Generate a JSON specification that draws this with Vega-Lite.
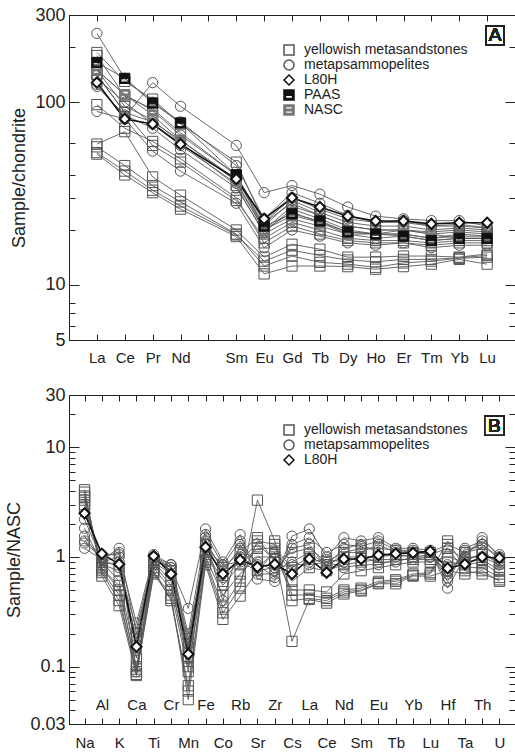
{
  "$schema": "https://vega.github.io/schema/vega-lite/v6.json",
  "background": "white",
  "padding": {"left": 5, "top": 5, "right": 0, "bottom": 2},
  "spacing": 19,
  "config": {
    "font": "Liberation Sans",
    "view": {"stroke": "#222", "strokeWidth": 1},
    "axis": {"domainColor": "#222", "tickColor": "#222", "labelColor": "#222", "titleColor": "#222", "labelFont": "Liberation Sans", "titleFont": "Liberation Sans", "titleFontWeight": "normal", "grid": false},
    "legend": {"labelFont": "Liberation Sans", "labelColor": "#222", "labelLimit": 400}
  },
  "resolve": {"scale": {"shape": "independent", "fill": "independent", "stroke": "independent"}, "legend": {"shape": "independent", "fill": "independent", "stroke": "independent"}},
  "datasets": {
    "ree": [
      {"s":"Y1","g":"Y","e":"La","v":59},{"s":"Y1","g":"Y","e":"Ce","v":69},{"s":"Y1","g":"Y","e":"Pr","v":39},{"s":"Y1","g":"Y","e":"Nd","v":31},{"s":"Y1","g":"Y","e":"Sm","v":20},{"s":"Y1","g":"Y","e":"Eu","v":14.2},{"s":"Y1","g":"Y","e":"Gd","v":16.7},{"s":"Y1","g":"Y","e":"Tb","v":15.7},{"s":"Y1","g":"Y","e":"Dy","v":14.2},{"s":"Y1","g":"Y","e":"Ho","v":14.2},{"s":"Y1","g":"Y","e":"Er","v":14.4},{"s":"Y1","g":"Y","e":"Tm","v":14.4},{"s":"Y1","g":"Y","e":"Yb","v":14.2},{"s":"Y1","g":"Y","e":"Lu","v":14.8},
      {"s":"Y2","g":"Y","e":"La","v":57},{"s":"Y2","g":"Y","e":"Ce","v":45},{"s":"Y2","g":"Y","e":"Pr","v":35},{"s":"Y2","g":"Y","e":"Nd","v":28.5},{"s":"Y2","g":"Y","e":"Sm","v":19},{"s":"Y2","g":"Y","e":"Eu","v":12.7},{"s":"Y2","g":"Y","e":"Gd","v":14.4},{"s":"Y2","g":"Y","e":"Tb","v":13.3},{"s":"Y2","g":"Y","e":"Dy","v":13},{"s":"Y2","g":"Y","e":"Ho","v":12.5},{"s":"Y2","g":"Y","e":"Er","v":13.2},{"s":"Y2","g":"Y","e":"Tm","v":13.5},{"s":"Y2","g":"Y","e":"Yb","v":14},{"s":"Y2","g":"Y","e":"Lu","v":14.2},
      {"s":"Y3","g":"Y","e":"La","v":52},{"s":"Y3","g":"Y","e":"Ce","v":40},{"s":"Y3","g":"Y","e":"Pr","v":32},{"s":"Y3","g":"Y","e":"Nd","v":26},{"s":"Y3","g":"Y","e":"Sm","v":18.4},{"s":"Y3","g":"Y","e":"Eu","v":11.5},{"s":"Y3","g":"Y","e":"Gd","v":12.7},{"s":"Y3","g":"Y","e":"Tb","v":12.7},{"s":"Y3","g":"Y","e":"Dy","v":12.6},{"s":"Y3","g":"Y","e":"Ho","v":12.2},{"s":"Y3","g":"Y","e":"Er","v":12.6},{"s":"Y3","g":"Y","e":"Tm","v":13},{"s":"Y3","g":"Y","e":"Yb","v":13.8},{"s":"Y3","g":"Y","e":"Lu","v":13},
      {"s":"Y4","g":"Y","e":"La","v":53},{"s":"Y4","g":"Y","e":"Ce","v":42},{"s":"Y4","g":"Y","e":"Pr","v":33},{"s":"Y4","g":"Y","e":"Nd","v":27},{"s":"Y4","g":"Y","e":"Sm","v":18.8},{"s":"Y4","g":"Y","e":"Eu","v":13.5},{"s":"Y4","g":"Y","e":"Gd","v":15.5},{"s":"Y4","g":"Y","e":"Tb","v":14.5},{"s":"Y4","g":"Y","e":"Dy","v":13.7},{"s":"Y4","g":"Y","e":"Ho","v":13.4},{"s":"Y4","g":"Y","e":"Er","v":13.8},{"s":"Y4","g":"Y","e":"Tm","v":13.8},{"s":"Y4","g":"Y","e":"Yb","v":14.1},{"s":"Y4","g":"Y","e":"Lu","v":14.5},
      {"s":"Y5","g":"Y","e":"La","v":187},{"s":"Y5","g":"Y","e":"Ce","v":130},{"s":"Y5","g":"Y","e":"Pr","v":104},{"s":"Y5","g":"Y","e":"Nd","v":76},{"s":"Y5","g":"Y","e":"Sm","v":47},{"s":"Y5","g":"Y","e":"Eu","v":22},{"s":"Y5","g":"Y","e":"Gd","v":28},{"s":"Y5","g":"Y","e":"Tb","v":24},{"s":"Y5","g":"Y","e":"Dy","v":21},{"s":"Y5","g":"Y","e":"Ho","v":20},{"s":"Y5","g":"Y","e":"Er","v":20},{"s":"Y5","g":"Y","e":"Tm","v":19},{"s":"Y5","g":"Y","e":"Yb","v":19.5},{"s":"Y5","g":"Y","e":"Lu","v":19},
      {"s":"Y6","g":"Y","e":"La","v":180},{"s":"Y6","g":"Y","e":"Ce","v":108},{"s":"Y6","g":"Y","e":"Pr","v":92},{"s":"Y6","g":"Y","e":"Nd","v":68},{"s":"Y6","g":"Y","e":"Sm","v":40},{"s":"Y6","g":"Y","e":"Eu","v":20},{"s":"Y6","g":"Y","e":"Gd","v":25},{"s":"Y6","g":"Y","e":"Tb","v":22},{"s":"Y6","g":"Y","e":"Dy","v":19.5},{"s":"Y6","g":"Y","e":"Ho","v":19},{"s":"Y6","g":"Y","e":"Er","v":19},{"s":"Y6","g":"Y","e":"Tm","v":18},{"s":"Y6","g":"Y","e":"Yb","v":18.5},{"s":"Y6","g":"Y","e":"Lu","v":18.5},
      {"s":"Y7","g":"Y","e":"La","v":150},{"s":"Y7","g":"Y","e":"Ce","v":95},{"s":"Y7","g":"Y","e":"Pr","v":80},{"s":"Y7","g":"Y","e":"Nd","v":60},{"s":"Y7","g":"Y","e":"Sm","v":35},{"s":"Y7","g":"Y","e":"Eu","v":19},{"s":"Y7","g":"Y","e":"Gd","v":23},{"s":"Y7","g":"Y","e":"Tb","v":21},{"s":"Y7","g":"Y","e":"Dy","v":19},{"s":"Y7","g":"Y","e":"Ho","v":18},{"s":"Y7","g":"Y","e":"Er","v":18.5},{"s":"Y7","g":"Y","e":"Tm","v":17.5},{"s":"Y7","g":"Y","e":"Yb","v":18},{"s":"Y7","g":"Y","e":"Lu","v":18},
      {"s":"Y8","g":"Y","e":"La","v":97},{"s":"Y8","g":"Y","e":"Ce","v":72},{"s":"Y8","g":"Y","e":"Pr","v":61},{"s":"Y8","g":"Y","e":"Nd","v":49},{"s":"Y8","g":"Y","e":"Sm","v":30},{"s":"Y8","g":"Y","e":"Eu","v":17},{"s":"Y8","g":"Y","e":"Gd","v":21},{"s":"Y8","g":"Y","e":"Tb","v":19},{"s":"Y8","g":"Y","e":"Dy","v":17.5},{"s":"Y8","g":"Y","e":"Ho","v":17},{"s":"Y8","g":"Y","e":"Er","v":17},{"s":"Y8","g":"Y","e":"Tm","v":16.5},{"s":"Y8","g":"Y","e":"Yb","v":17},{"s":"Y8","g":"Y","e":"Lu","v":17},
      {"s":"Y9","g":"Y","e":"La","v":142},{"s":"Y9","g":"Y","e":"Ce","v":88},{"s":"Y9","g":"Y","e":"Pr","v":58},{"s":"Y9","g":"Y","e":"Nd","v":47},{"s":"Y9","g":"Y","e":"Sm","v":29},{"s":"Y9","g":"Y","e":"Eu","v":18},{"s":"Y9","g":"Y","e":"Gd","v":22},{"s":"Y9","g":"Y","e":"Tb","v":20},{"s":"Y9","g":"Y","e":"Dy","v":18},{"s":"Y9","g":"Y","e":"Ho","v":17.5},{"s":"Y9","g":"Y","e":"Er","v":17.5},{"s":"Y9","g":"Y","e":"Tm","v":17},{"s":"Y9","g":"Y","e":"Yb","v":17.5},{"s":"Y9","g":"Y","e":"Lu","v":17.5},
      {"s":"M1","g":"M","e":"La","v":238},{"s":"M1","g":"M","e":"Ce","v":135},{"s":"M1","g":"M","e":"Pr","v":100},{"s":"M1","g":"M","e":"Nd","v":78},{"s":"M1","g":"M","e":"Sm","v":45},{"s":"M1","g":"M","e":"Eu","v":23},{"s":"M1","g":"M","e":"Gd","v":32},{"s":"M1","g":"M","e":"Tb","v":28},{"s":"M1","g":"M","e":"Dy","v":24},{"s":"M1","g":"M","e":"Ho","v":22},{"s":"M1","g":"M","e":"Er","v":22},{"s":"M1","g":"M","e":"Tm","v":21},{"s":"M1","g":"M","e":"Yb","v":21},{"s":"M1","g":"M","e":"Lu","v":20.5},
      {"s":"M2","g":"M","e":"La","v":125},{"s":"M2","g":"M","e":"Ce","v":83},{"s":"M2","g":"M","e":"Pr","v":128},{"s":"M2","g":"M","e":"Nd","v":95},{"s":"M2","g":"M","e":"Sm","v":58},{"s":"M2","g":"M","e":"Eu","v":32},{"s":"M2","g":"M","e":"Gd","v":35},{"s":"M2","g":"M","e":"Tb","v":31.4},{"s":"M2","g":"M","e":"Dy","v":26.7},{"s":"M2","g":"M","e":"Ho","v":23.8},{"s":"M2","g":"M","e":"Er","v":23},{"s":"M2","g":"M","e":"Tm","v":22.5},{"s":"M2","g":"M","e":"Yb","v":22.5},{"s":"M2","g":"M","e":"Lu","v":21},
      {"s":"M3","g":"M","e":"La","v":89},{"s":"M3","g":"M","e":"Ce","v":81},{"s":"M3","g":"M","e":"Pr","v":54},{"s":"M3","g":"M","e":"Nd","v":42},{"s":"M3","g":"M","e":"Sm","v":28},{"s":"M3","g":"M","e":"Eu","v":16},{"s":"M3","g":"M","e":"Gd","v":20},{"s":"M3","g":"M","e":"Tb","v":18.5},{"s":"M3","g":"M","e":"Dy","v":17},{"s":"M3","g":"M","e":"Ho","v":16.5},{"s":"M3","g":"M","e":"Er","v":17},{"s":"M3","g":"M","e":"Tm","v":16},{"s":"M3","g":"M","e":"Yb","v":16.5},{"s":"M3","g":"M","e":"Lu","v":16.5},
      {"s":"M4","g":"M","e":"La","v":135},{"s":"M4","g":"M","e":"Ce","v":100},{"s":"M4","g":"M","e":"Pr","v":76},{"s":"M4","g":"M","e":"Nd","v":58},{"s":"M4","g":"M","e":"Sm","v":36},{"s":"M4","g":"M","e":"Eu","v":20},{"s":"M4","g":"M","e":"Gd","v":27},{"s":"M4","g":"M","e":"Tb","v":24},{"s":"M4","g":"M","e":"Dy","v":21},{"s":"M4","g":"M","e":"Ho","v":20},{"s":"M4","g":"M","e":"Er","v":20},{"s":"M4","g":"M","e":"Tm","v":19.5},{"s":"M4","g":"M","e":"Yb","v":20},{"s":"M4","g":"M","e":"Lu","v":19.5},
      {"s":"M5","g":"M","e":"La","v":122},{"s":"M5","g":"M","e":"Ce","v":85},{"s":"M5","g":"M","e":"Pr","v":72},{"s":"M5","g":"M","e":"Nd","v":55},{"s":"M5","g":"M","e":"Sm","v":34},{"s":"M5","g":"M","e":"Eu","v":19.5},{"s":"M5","g":"M","e":"Gd","v":26},{"s":"M5","g":"M","e":"Tb","v":23},{"s":"M5","g":"M","e":"Dy","v":20},{"s":"M5","g":"M","e":"Ho","v":19},{"s":"M5","g":"M","e":"Er","v":19},{"s":"M5","g":"M","e":"Tm","v":18},{"s":"M5","g":"M","e":"Yb","v":19},{"s":"M5","g":"M","e":"Lu","v":18.5},
      {"s":"M6","g":"M","e":"La","v":140},{"s":"M6","g":"M","e":"Ce","v":88},{"s":"M6","g":"M","e":"Pr","v":78},{"s":"M6","g":"M","e":"Nd","v":62},{"s":"M6","g":"M","e":"Sm","v":38},{"s":"M6","g":"M","e":"Eu","v":21},{"s":"M6","g":"M","e":"Gd","v":29},{"s":"M6","g":"M","e":"Tb","v":25},{"s":"M6","g":"M","e":"Dy","v":22},{"s":"M6","g":"M","e":"Ho","v":21},{"s":"M6","g":"M","e":"Er","v":21},{"s":"M6","g":"M","e":"Tm","v":20},{"s":"M6","g":"M","e":"Yb","v":20.5},{"s":"M6","g":"M","e":"Lu","v":20},
      {"s":"M7","g":"M","e":"La","v":150},{"s":"M7","g":"M","e":"Ce","v":110},{"s":"M7","g":"M","e":"Pr","v":90},{"s":"M7","g":"M","e":"Nd","v":66},{"s":"M7","g":"M","e":"Sm","v":40},{"s":"M7","g":"M","e":"Eu","v":22},{"s":"M7","g":"M","e":"Gd","v":30},{"s":"M7","g":"M","e":"Tb","v":26},{"s":"M7","g":"M","e":"Dy","v":23},{"s":"M7","g":"M","e":"Ho","v":22},{"s":"M7","g":"M","e":"Er","v":22.5},{"s":"M7","g":"M","e":"Tm","v":21},{"s":"M7","g":"M","e":"Yb","v":21.5},{"s":"M7","g":"M","e":"Lu","v":20.5},
      {"s":"NASC","g":"NASC","e":"La","v":150},{"s":"NASC","g":"NASC","e":"Ce","v":110},{"s":"NASC","g":"NASC","e":"Pr","v":85},{"s":"NASC","g":"NASC","e":"Nd","v":62},{"s":"NASC","g":"NASC","e":"Sm","v":37},{"s":"NASC","g":"NASC","e":"Eu","v":20},{"s":"NASC","g":"NASC","e":"Gd","v":24},{"s":"NASC","g":"NASC","e":"Tb","v":22},{"s":"NASC","g":"NASC","e":"Dy","v":19},{"s":"NASC","g":"NASC","e":"Ho","v":19},{"s":"NASC","g":"NASC","e":"Er","v":20},{"s":"NASC","g":"NASC","e":"Tm","v":19},{"s":"NASC","g":"NASC","e":"Yb","v":18},{"s":"NASC","g":"NASC","e":"Lu","v":18},
      {"s":"PAAS","g":"PAAS","e":"La","v":165},{"s":"PAAS","g":"PAAS","e":"Ce","v":135},{"s":"PAAS","g":"PAAS","e":"Pr","v":99},{"s":"PAAS","g":"PAAS","e":"Nd","v":77},{"s":"PAAS","g":"PAAS","e":"Sm","v":40},{"s":"PAAS","g":"PAAS","e":"Eu","v":21},{"s":"PAAS","g":"PAAS","e":"Gd","v":24.5},{"s":"PAAS","g":"PAAS","e":"Tb","v":22.4},{"s":"PAAS","g":"PAAS","e":"Dy","v":19.5},{"s":"PAAS","g":"PAAS","e":"Ho","v":19},{"s":"PAAS","g":"PAAS","e":"Er","v":18.5},{"s":"PAAS","g":"PAAS","e":"Tm","v":17.5},{"s":"PAAS","g":"PAAS","e":"Yb","v":18},{"s":"PAAS","g":"PAAS","e":"Lu","v":18},
      {"s":"L80H","g":"L80H","e":"La","v":128},{"s":"L80H","g":"L80H","e":"Ce","v":81},{"s":"L80H","g":"L80H","e":"Pr","v":76},{"s":"L80H","g":"L80H","e":"Nd","v":59},{"s":"L80H","g":"L80H","e":"Sm","v":38},{"s":"L80H","g":"L80H","e":"Eu","v":23},{"s":"L80H","g":"L80H","e":"Gd","v":30},{"s":"L80H","g":"L80H","e":"Tb","v":26.7},{"s":"L80H","g":"L80H","e":"Dy","v":23.8},{"s":"L80H","g":"L80H","e":"Ho","v":22.4},{"s":"L80H","g":"L80H","e":"Er","v":22.4},{"s":"L80H","g":"L80H","e":"Tm","v":21.6},{"s":"L80H","g":"L80H","e":"Yb","v":21.9},{"s":"L80H","g":"L80H","e":"Lu","v":21.9}
    ],
    "multi": [
      {"s":"Q1","g":"Y","e":"Na","v":4.1},{"s":"Q1","g":"Y","e":"Al","v":0.67},{"s":"Q1","g":"Y","e":"K","v":0.36},{"s":"Q1","g":"Y","e":"Ca","v":0.083},{"s":"Q1","g":"Y","e":"Ti","v":0.72},{"s":"Q1","g":"Y","e":"Cr","v":0.45},{"s":"Q1","g":"Y","e":"Mn","v":0.05},{"s":"Q1","g":"Y","e":"Fe","v":0.85},{"s":"Q1","g":"Y","e":"Co","v":0.27},{"s":"Q1","g":"Y","e":"Rb","v":0.44},{"s":"Q1","g":"Y","e":"Sr","v":0.75},{"s":"Q1","g":"Y","e":"Zr","v":1.1},{"s":"Q1","g":"Y","e":"Cs","v":0.17},{"s":"Q1","g":"Y","e":"La","v":0.41},{"s":"Q1","g":"Y","e":"Ce","v":0.38},{"s":"Q1","g":"Y","e":"Nd","v":0.46},{"s":"Q1","g":"Y","e":"Sm","v":0.49},{"s":"Q1","g":"Y","e":"Eu","v":0.57},{"s":"Q1","g":"Y","e":"Tb","v":0.57},{"s":"Q1","g":"Y","e":"Yb","v":0.67},{"s":"Q1","g":"Y","e":"Lu","v":0.67},{"s":"Q1","g":"Y","e":"Hf","v":0.75},{"s":"Q1","g":"Y","e":"Ta","v":0.7},{"s":"Q1","g":"Y","e":"Th","v":0.75},{"s":"Q1","g":"Y","e":"U","v":0.6},
      {"s":"Q2","g":"Y","e":"Na","v":3.5},{"s":"Q2","g":"Y","e":"Al","v":0.72},{"s":"Q2","g":"Y","e":"K","v":0.4},{"s":"Q2","g":"Y","e":"Ca","v":0.09},{"s":"Q2","g":"Y","e":"Ti","v":0.75},{"s":"Q2","g":"Y","e":"Cr","v":0.4},{"s":"Q2","g":"Y","e":"Mn","v":0.067},{"s":"Q2","g":"Y","e":"Fe","v":0.9},{"s":"Q2","g":"Y","e":"Co","v":0.31},{"s":"Q2","g":"Y","e":"Rb","v":0.52},{"s":"Q2","g":"Y","e":"Sr","v":3.3},{"s":"Q2","g":"Y","e":"Zr","v":1.4},{"s":"Q2","g":"Y","e":"Cs","v":0.45},{"s":"Q2","g":"Y","e":"La","v":0.45},{"s":"Q2","g":"Y","e":"Ce","v":0.42},{"s":"Q2","g":"Y","e":"Nd","v":0.5},{"s":"Q2","g":"Y","e":"Sm","v":0.52},{"s":"Q2","g":"Y","e":"Eu","v":0.6},{"s":"Q2","g":"Y","e":"Tb","v":0.62},{"s":"Q2","g":"Y","e":"Yb","v":0.7},{"s":"Q2","g":"Y","e":"Lu","v":0.72},{"s":"Q2","g":"Y","e":"Hf","v":1.4},{"s":"Q2","g":"Y","e":"Ta","v":0.8},{"s":"Q2","g":"Y","e":"Th","v":0.8},{"s":"Q2","g":"Y","e":"U","v":0.65},
      {"s":"Q3","g":"Y","e":"Na","v":3.3},{"s":"Q3","g":"Y","e":"Al","v":0.8},{"s":"Q3","g":"Y","e":"K","v":0.5},{"s":"Q3","g":"Y","e":"Ca","v":0.1},{"s":"Q3","g":"Y","e":"Ti","v":0.8},{"s":"Q3","g":"Y","e":"Cr","v":0.5},{"s":"Q3","g":"Y","e":"Mn","v":0.09},{"s":"Q3","g":"Y","e":"Fe","v":1.0},{"s":"Q3","g":"Y","e":"Co","v":0.45},{"s":"Q3","g":"Y","e":"Rb","v":0.7},{"s":"Q3","g":"Y","e":"Sr","v":1.0},{"s":"Q3","g":"Y","e":"Zr","v":1.0},{"s":"Q3","g":"Y","e":"Cs","v":0.5},{"s":"Q3","g":"Y","e":"La","v":0.5},{"s":"Q3","g":"Y","e":"Ce","v":0.48},{"s":"Q3","g":"Y","e":"Nd","v":0.7},{"s":"Q3","g":"Y","e":"Sm","v":0.75},{"s":"Q3","g":"Y","e":"Eu","v":0.8},{"s":"Q3","g":"Y","e":"Tb","v":0.85},{"s":"Q3","g":"Y","e":"Yb","v":0.9},{"s":"Q3","g":"Y","e":"Lu","v":0.9},{"s":"Q3","g":"Y","e":"Hf","v":1.0},{"s":"Q3","g":"Y","e":"Ta","v":0.9},{"s":"Q3","g":"Y","e":"Th","v":0.95},{"s":"Q3","g":"Y","e":"U","v":0.75},
      {"s":"Q4","g":"Y","e":"Na","v":3.0},{"s":"Q4","g":"Y","e":"Al","v":0.9},{"s":"Q4","g":"Y","e":"K","v":0.6},{"s":"Q4","g":"Y","e":"Ca","v":0.12},{"s":"Q4","g":"Y","e":"Ti","v":0.9},{"s":"Q4","g":"Y","e":"Cr","v":0.6},{"s":"Q4","g":"Y","e":"Mn","v":0.1},{"s":"Q4","g":"Y","e":"Fe","v":1.1},{"s":"Q4","g":"Y","e":"Co","v":0.55},{"s":"Q4","g":"Y","e":"Rb","v":0.85},{"s":"Q4","g":"Y","e":"Sr","v":1.2},{"s":"Q4","g":"Y","e":"Zr","v":1.2},{"s":"Q4","g":"Y","e":"Cs","v":0.8},{"s":"Q4","g":"Y","e":"La","v":1.0},{"s":"Q4","g":"Y","e":"Ce","v":0.85},{"s":"Q4","g":"Y","e":"Nd","v":1.0},{"s":"Q4","g":"Y","e":"Sm","v":1.0},{"s":"Q4","g":"Y","e":"Eu","v":1.0},{"s":"Q4","g":"Y","e":"Tb","v":1.05},{"s":"Q4","g":"Y","e":"Yb","v":1.0},{"s":"Q4","g":"Y","e":"Lu","v":1.05},{"s":"Q4","g":"Y","e":"Hf","v":1.2},{"s":"Q4","g":"Y","e":"Ta","v":0.95},{"s":"Q4","g":"Y","e":"Th","v":1.05},{"s":"Q4","g":"Y","e":"U","v":0.9},
      {"s":"Q5","g":"Y","e":"Na","v":2.8},{"s":"Q5","g":"Y","e":"Al","v":0.85},{"s":"Q5","g":"Y","e":"K","v":0.75},{"s":"Q5","g":"Y","e":"Ca","v":0.18},{"s":"Q5","g":"Y","e":"Ti","v":0.95},{"s":"Q5","g":"Y","e":"Cr","v":0.75},{"s":"Q5","g":"Y","e":"Mn","v":0.15},{"s":"Q5","g":"Y","e":"Fe","v":1.3},{"s":"Q5","g":"Y","e":"Co","v":0.8},{"s":"Q5","g":"Y","e":"Rb","v":1.1},{"s":"Q5","g":"Y","e":"Sr","v":1.5},{"s":"Q5","g":"Y","e":"Zr","v":0.9},{"s":"Q5","g":"Y","e":"Cs","v":1.1},{"s":"Q5","g":"Y","e":"La","v":1.2},{"s":"Q5","g":"Y","e":"Ce","v":0.9},{"s":"Q5","g":"Y","e":"Nd","v":1.1},{"s":"Q5","g":"Y","e":"Sm","v":1.2},{"s":"Q5","g":"Y","e":"Eu","v":1.2},{"s":"Q5","g":"Y","e":"Tb","v":1.15},{"s":"Q5","g":"Y","e":"Yb","v":1.1},{"s":"Q5","g":"Y","e":"Lu","v":1.1},{"s":"Q5","g":"Y","e":"Hf","v":1.3},{"s":"Q5","g":"Y","e":"Ta","v":1.1},{"s":"Q5","g":"Y","e":"Th","v":1.2},{"s":"Q5","g":"Y","e":"U","v":0.8},
      {"s":"Q6","g":"Y","e":"Na","v":3.6},{"s":"Q6","g":"Y","e":"Al","v":0.78},{"s":"Q6","g":"Y","e":"K","v":0.55},{"s":"Q6","g":"Y","e":"Ca","v":0.095},{"s":"Q6","g":"Y","e":"Ti","v":0.85},{"s":"Q6","g":"Y","e":"Cr","v":0.55},{"s":"Q6","g":"Y","e":"Mn","v":0.12},{"s":"Q6","g":"Y","e":"Fe","v":1.15},{"s":"Q6","g":"Y","e":"Co","v":0.6},{"s":"Q6","g":"Y","e":"Rb","v":0.95},{"s":"Q6","g":"Y","e":"Sr","v":1.3},{"s":"Q6","g":"Y","e":"Zr","v":0.95},{"s":"Q6","g":"Y","e":"Cs","v":0.6},{"s":"Q6","g":"Y","e":"La","v":0.8},{"s":"Q6","g":"Y","e":"Ce","v":0.75},{"s":"Q6","g":"Y","e":"Nd","v":0.85},{"s":"Q6","g":"Y","e":"Sm","v":0.9},{"s":"Q6","g":"Y","e":"Eu","v":0.95},{"s":"Q6","g":"Y","e":"Tb","v":0.95},{"s":"Q6","g":"Y","e":"Yb","v":0.95},{"s":"Q6","g":"Y","e":"Lu","v":0.95},{"s":"Q6","g":"Y","e":"Hf","v":0.9},{"s":"Q6","g":"Y","e":"Ta","v":0.85},{"s":"Q6","g":"Y","e":"Th","v":0.9},{"s":"Q6","g":"Y","e":"U","v":0.7},
      {"s":"Q7","g":"Y","e":"Na","v":3.9},{"s":"Q7","g":"Y","e":"Al","v":0.75},{"s":"Q7","g":"Y","e":"K","v":0.45},{"s":"Q7","g":"Y","e":"Ca","v":0.085},{"s":"Q7","g":"Y","e":"Ti","v":0.7},{"s":"Q7","g":"Y","e":"Cr","v":0.42},{"s":"Q7","g":"Y","e":"Mn","v":0.06},{"s":"Q7","g":"Y","e":"Fe","v":0.95},{"s":"Q7","g":"Y","e":"Co","v":0.35},{"s":"Q7","g":"Y","e":"Rb","v":0.6},{"s":"Q7","g":"Y","e":"Sr","v":1.4},{"s":"Q7","g":"Y","e":"Zr","v":1.3},{"s":"Q7","g":"Y","e":"Cs","v":0.4},{"s":"Q7","g":"Y","e":"La","v":0.42},{"s":"Q7","g":"Y","e":"Ce","v":0.4},{"s":"Q7","g":"Y","e":"Nd","v":0.48},{"s":"Q7","g":"Y","e":"Sm","v":0.5},{"s":"Q7","g":"Y","e":"Eu","v":0.58},{"s":"Q7","g":"Y","e":"Tb","v":0.6},{"s":"Q7","g":"Y","e":"Yb","v":0.68},{"s":"Q7","g":"Y","e":"Lu","v":0.7},{"s":"Q7","g":"Y","e":"Hf","v":1.2},{"s":"Q7","g":"Y","e":"Ta","v":0.75},{"s":"Q7","g":"Y","e":"Th","v":0.7},{"s":"Q7","g":"Y","e":"U","v":0.62},
      {"s":"R1","g":"M","e":"Na","v":1.2},{"s":"R1","g":"M","e":"Al","v":0.95},{"s":"R1","g":"M","e":"K","v":1.2},{"s":"R1","g":"M","e":"Ca","v":0.2},{"s":"R1","g":"M","e":"Ti","v":0.95},{"s":"R1","g":"M","e":"Cr","v":0.8},{"s":"R1","g":"M","e":"Mn","v":0.34},{"s":"R1","g":"M","e":"Fe","v":1.8},{"s":"R1","g":"M","e":"Co","v":0.9},{"s":"R1","g":"M","e":"Rb","v":1.6},{"s":"R1","g":"M","e":"Sr","v":0.63},{"s":"R1","g":"M","e":"Zr","v":0.6},{"s":"R1","g":"M","e":"Cs","v":1.55},{"s":"R1","g":"M","e":"La","v":1.8},{"s":"R1","g":"M","e":"Ce","v":1.0},{"s":"R1","g":"M","e":"Nd","v":1.5},{"s":"R1","g":"M","e":"Sm","v":1.4},{"s":"R1","g":"M","e":"Eu","v":1.5},{"s":"R1","g":"M","e":"Tb","v":1.2},{"s":"R1","g":"M","e":"Yb","v":1.2},{"s":"R1","g":"M","e":"Lu","v":1.15},{"s":"R1","g":"M","e":"Hf","v":0.52},{"s":"R1","g":"M","e":"Ta","v":1.0},{"s":"R1","g":"M","e":"Th","v":1.5},{"s":"R1","g":"M","e":"U","v":1.0},
      {"s":"R2","g":"M","e":"Na","v":1.34},{"s":"R2","g":"M","e":"Al","v":1.0},{"s":"R2","g":"M","e":"K","v":1.1},{"s":"R2","g":"M","e":"Ca","v":0.09},{"s":"R2","g":"M","e":"Ti","v":1.0},{"s":"R2","g":"M","e":"Cr","v":0.75},{"s":"R2","g":"M","e":"Mn","v":0.12},{"s":"R2","g":"M","e":"Fe","v":1.5},{"s":"R2","g":"M","e":"Co","v":0.4},{"s":"R2","g":"M","e":"Rb","v":1.3},{"s":"R2","g":"M","e":"Sr","v":0.7},{"s":"R2","g":"M","e":"Zr","v":0.7},{"s":"R2","g":"M","e":"Cs","v":1.2},{"s":"R2","g":"M","e":"La","v":1.3},{"s":"R2","g":"M","e":"Ce","v":0.8},{"s":"R2","g":"M","e":"Nd","v":1.1},{"s":"R2","g":"M","e":"Sm","v":1.1},{"s":"R2","g":"M","e":"Eu","v":1.3},{"s":"R2","g":"M","e":"Tb","v":1.1},{"s":"R2","g":"M","e":"Yb","v":1.1},{"s":"R2","g":"M","e":"Lu","v":1.1},{"s":"R2","g":"M","e":"Hf","v":0.7},{"s":"R2","g":"M","e":"Ta","v":1.1},{"s":"R2","g":"M","e":"Th","v":1.3},{"s":"R2","g":"M","e":"U","v":0.95},
      {"s":"R3","g":"M","e":"Na","v":1.55},{"s":"R3","g":"M","e":"Al","v":0.9},{"s":"R3","g":"M","e":"K","v":1.0},{"s":"R3","g":"M","e":"Ca","v":0.16},{"s":"R3","g":"M","e":"Ti","v":1.0},{"s":"R3","g":"M","e":"Cr","v":0.85},{"s":"R3","g":"M","e":"Mn","v":0.16},{"s":"R3","g":"M","e":"Fe","v":1.4},{"s":"R3","g":"M","e":"Co","v":0.75},{"s":"R3","g":"M","e":"Rb","v":1.2},{"s":"R3","g":"M","e":"Sr","v":0.9},{"s":"R3","g":"M","e":"Zr","v":0.75},{"s":"R3","g":"M","e":"Cs","v":0.9},{"s":"R3","g":"M","e":"La","v":1.1},{"s":"R3","g":"M","e":"Ce","v":0.85},{"s":"R3","g":"M","e":"Nd","v":1.2},{"s":"R3","g":"M","e":"Sm","v":1.3},{"s":"R3","g":"M","e":"Eu","v":1.1},{"s":"R3","g":"M","e":"Tb","v":1.0},{"s":"R3","g":"M","e":"Yb","v":1.05},{"s":"R3","g":"M","e":"Lu","v":1.1},{"s":"R3","g":"M","e":"Hf","v":0.65},{"s":"R3","g":"M","e":"Ta","v":1.2},{"s":"R3","g":"M","e":"Th","v":1.4},{"s":"R3","g":"M","e":"U","v":1.05},
      {"s":"R4","g":"M","e":"Na","v":1.83},{"s":"R4","g":"M","e":"Al","v":0.85},{"s":"R4","g":"M","e":"K","v":0.9},{"s":"R4","g":"M","e":"Ca","v":0.14},{"s":"R4","g":"M","e":"Ti","v":0.9},{"s":"R4","g":"M","e":"Cr","v":0.7},{"s":"R4","g":"M","e":"Mn","v":0.14},{"s":"R4","g":"M","e":"Fe","v":1.3},{"s":"R4","g":"M","e":"Co","v":0.65},{"s":"R4","g":"M","e":"Rb","v":1.0},{"s":"R4","g":"M","e":"Sr","v":0.8},{"s":"R4","g":"M","e":"Zr","v":1.1},{"s":"R4","g":"M","e":"Cs","v":0.75},{"s":"R4","g":"M","e":"La","v":0.9},{"s":"R4","g":"M","e":"Ce","v":0.95},{"s":"R4","g":"M","e":"Nd","v":0.9},{"s":"R4","g":"M","e":"Sm","v":1.0},{"s":"R4","g":"M","e":"Eu","v":0.9},{"s":"R4","g":"M","e":"Tb","v":0.9},{"s":"R4","g":"M","e":"Yb","v":1.0},{"s":"R4","g":"M","e":"Lu","v":1.0},{"s":"R4","g":"M","e":"Hf","v":0.85},{"s":"R4","g":"M","e":"Ta","v":0.9},{"s":"R4","g":"M","e":"Th","v":1.1},{"s":"R4","g":"M","e":"U","v":0.9},
      {"s":"R5","g":"M","e":"Na","v":2.2},{"s":"R5","g":"M","e":"Al","v":0.95},{"s":"R5","g":"M","e":"K","v":0.8},{"s":"R5","g":"M","e":"Ca","v":0.22},{"s":"R5","g":"M","e":"Ti","v":1.0},{"s":"R5","g":"M","e":"Cr","v":0.8},{"s":"R5","g":"M","e":"Mn","v":0.18},{"s":"R5","g":"M","e":"Fe","v":1.2},{"s":"R5","g":"M","e":"Co","v":0.85},{"s":"R5","g":"M","e":"Rb","v":0.9},{"s":"R5","g":"M","e":"Sr","v":0.75},{"s":"R5","g":"M","e":"Zr","v":0.8},{"s":"R5","g":"M","e":"Cs","v":0.85},{"s":"R5","g":"M","e":"La","v":0.85},{"s":"R5","g":"M","e":"Ce","v":0.9},{"s":"R5","g":"M","e":"Nd","v":0.8},{"s":"R5","g":"M","e":"Sm","v":0.85},{"s":"R5","g":"M","e":"Eu","v":0.85},{"s":"R5","g":"M","e":"Tb","v":0.95},{"s":"R5","g":"M","e":"Yb","v":0.95},{"s":"R5","g":"M","e":"Lu","v":1.0},{"s":"R5","g":"M","e":"Hf","v":0.75},{"s":"R5","g":"M","e":"Ta","v":1.0},{"s":"R5","g":"M","e":"Th","v":1.0},{"s":"R5","g":"M","e":"U","v":0.85},
      {"s":"R6","g":"M","e":"Na","v":1.4},{"s":"R6","g":"M","e":"Al","v":1.05},{"s":"R6","g":"M","e":"K","v":1.05},{"s":"R6","g":"M","e":"Ca","v":0.25},{"s":"R6","g":"M","e":"Ti","v":1.05},{"s":"R6","g":"M","e":"Cr","v":0.85},{"s":"R6","g":"M","e":"Mn","v":0.2},{"s":"R6","g":"M","e":"Fe","v":1.6},{"s":"R6","g":"M","e":"Co","v":0.85},{"s":"R6","g":"M","e":"Rb","v":1.4},{"s":"R6","g":"M","e":"Sr","v":0.85},{"s":"R6","g":"M","e":"Zr","v":0.65},{"s":"R6","g":"M","e":"Cs","v":1.3},{"s":"R6","g":"M","e":"La","v":1.5},{"s":"R6","g":"M","e":"Ce","v":1.1},{"s":"R6","g":"M","e":"Nd","v":1.3},{"s":"R6","g":"M","e":"Sm","v":1.25},{"s":"R6","g":"M","e":"Eu","v":1.4},{"s":"R6","g":"M","e":"Tb","v":1.15},{"s":"R6","g":"M","e":"Yb","v":1.15},{"s":"R6","g":"M","e":"Lu","v":1.1},{"s":"R6","g":"M","e":"Hf","v":0.6},{"s":"R6","g":"M","e":"Ta","v":1.15},{"s":"R6","g":"M","e":"Th","v":1.3},{"s":"R6","g":"M","e":"U","v":1.0},
      {"s":"L80H","g":"L80H","e":"Na","v":2.5},{"s":"L80H","g":"L80H","e":"Al","v":1.07},{"s":"L80H","g":"L80H","e":"K","v":0.86},{"s":"L80H","g":"L80H","e":"Ca","v":0.152},{"s":"L80H","g":"L80H","e":"Ti","v":1.02},{"s":"L80H","g":"L80H","e":"Cr","v":0.7},{"s":"L80H","g":"L80H","e":"Mn","v":0.13},{"s":"L80H","g":"L80H","e":"Fe","v":1.23},{"s":"L80H","g":"L80H","e":"Co","v":0.7},{"s":"L80H","g":"L80H","e":"Rb","v":0.94},{"s":"L80H","g":"L80H","e":"Sr","v":0.81},{"s":"L80H","g":"L80H","e":"Zr","v":0.86},{"s":"L80H","g":"L80H","e":"Cs","v":0.7},{"s":"L80H","g":"L80H","e":"La","v":0.96},{"s":"L80H","g":"L80H","e":"Ce","v":0.72},{"s":"L80H","g":"L80H","e":"Nd","v":0.96},{"s":"L80H","g":"L80H","e":"Sm","v":0.96},{"s":"L80H","g":"L80H","e":"Eu","v":1.04},{"s":"L80H","g":"L80H","e":"Tb","v":1.07},{"s":"L80H","g":"L80H","e":"Yb","v":1.09},{"s":"L80H","g":"L80H","e":"Lu","v":1.13},{"s":"L80H","g":"L80H","e":"Hf","v":0.79},{"s":"L80H","g":"L80H","e":"Ta","v":0.86},{"s":"L80H","g":"L80H","e":"Th","v":1.0},{"s":"L80H","g":"L80H","e":"U","v":0.98}
    ]
  },
  "vconcat": [
    {
      "width": 446,
      "height": 325,
      "data": {"name": "ree"},
      "resolve": {"axis": {"x": "independent", "y": "independent"}},
      "layer": [
        {
          "mark": {"type": "line"},
          "encoding": {
            "x": {"field": "e", "type": "ordinal", "sort": ["La","Ce","Pr","Nd","Pm","Sm","Eu","Gd","Tb","Dy","Ho","Er","Tm","Yb","Lu"],
                  "scale": {"type": "point", "domain": ["La","Ce","Pr","Nd","Pm","Sm","Eu","Gd","Tb","Dy","Ho","Er","Tm","Yb","Lu"], "padding": 1},
                  "axis": {"orient": "top", "labels": false, "title": null, "tickSize": -6}},
            "y": {"field": "v", "type": "quantitative", "scale": {"type": "log", "domain": [5, 300], "nice": false},
                  "axis": {"orient": "right", "labels": false, "title": null, "values": [5,6,7,8,10,20,30,40,60,100,200,300],
                           "tickSize": {"condition": {"test": "datum.value==100||datum.value==10", "value": -10}, "value": -6}}},
            "detail": {"field": "s"},
            "stroke": {"condition": {"test": "datum.g=='L80H'", "value": "#111"}, "value": "#5a5a5a"},
            "strokeWidth": {"condition": {"test": "datum.g=='L80H'", "value": 1.6}, "value": 0.9}
          }
        },
        {
          "mark": {"type": "point", "size": 105, "opacity": 1},
          "encoding": {
            "x": {"field": "e", "type": "ordinal", "sort": ["La","Ce","Pr","Nd","Pm","Sm","Eu","Gd","Tb","Dy","Ho","Er","Tm","Yb","Lu"],
                  "axis": {"orient": "bottom", "title": null, "labelAngle": 0, "labelFontSize": 15, "tickSize": -6, "labelPadding": 16,
                           "labelExpr": "datum.value=='Pm'?'':datum.value"}},
            "y": {"field": "v", "type": "quantitative",
                  "axis": {"orient": "left", "title": "Sample/chondrite", "titleFontSize": 18, "titlePadding": 6,
                           "values": [5,6,7,8,10,20,30,40,60,100,200,300],
                           "labelExpr": "(datum.value==300||datum.value==100||datum.value==10||datum.value==5)?format(datum.value,'~g'):''",
                           "labelFontSize": 18,
                           "tickSize": {"condition": {"test": "datum.value==100||datum.value==10", "value": -10}, "value": -6},
                           "labelPadding": {"condition": {"test": "datum.value==100||datum.value==10", "value": 14}, "value": 10}}},
            "shape": {"field": "g", "type": "nominal",
                      "scale": {"domain": ["Y","M","L80H","PAAS","NASC"],
                                "range": ["square","circle","diamond","M-1,-1H1V1H-1Z M-0.72,0.05V0.72H0.72V0.05Z","M-1,-1H1V1H-1Z M-0.72,-0.72V-0.14H0.72V-0.72Z M-0.72,0.14V0.72H0.72V0.14Z"]},
                      "legend": {"orient": "none", "legendX": 213, "legendY": 28, "title": null, "labelFontSize": 14, "symbolSize": 100, "rowPadding": -2, "labelOffset": 8, "labelLimit": 400,
                                 "labelExpr": "datum.label=='Y'?'yellowish metasandstones':datum.label=='M'?'metapsammopelites':datum.label"}},
            "fill": {"field": "g", "type": "nominal", "scale": {"domain": ["Y","M","L80H","PAAS","NASC"], "range": ["transparent","transparent","white","#111","#777"]}},
            "stroke": {"field": "g", "type": "nominal", "scale": {"domain": ["Y","M","L80H","PAAS","NASC"], "range": ["#555","#555","#111","#111","#777"]}},
            "strokeWidth": {"condition": {"test": "datum.g=='L80H'", "value": 2}, "value": 1}
          }
        },
        {
          "mark": {"type": "text", "text": "A", "fontSize": 19, "font": "Liberation Sans", "fill": "#222", "dx": 8, "align": "center", "baseline": "middle"},
          "encoding": {
            "x": {"datum": "Lu", "type": "ordinal", "axis": null},
            "y": {"datum": 232, "type": "quantitative", "axis": null}
          }
        },
        {
          "mark": {"type": "point", "shape": "square", "size": 340, "filled": false, "stroke": "#222", "strokeWidth": 1.2, "opacity": 1, "xOffset": 8},
          "encoding": {
            "x": {"datum": "Lu", "type": "ordinal", "axis": null},
            "y": {"datum": 232, "type": "quantitative", "axis": null}
          }
        }
      ]
    },
    {
      "width": 446,
      "height": 329,
      "data": {"name": "multi"},
      "resolve": {"axis": {"x": "independent", "y": "independent"}},
      "layer": [
        {
          "mark": {"type": "line"},
          "encoding": {
            "x": {"field": "e", "type": "ordinal", "sort": ["Na","Al","K","Ca","Ti","Cr","Mn","Fe","Co","Rb","Sr","Zr","Cs","La","Ce","Nd","Sm","Eu","Tb","Yb","Lu","Hf","Ta","Th","U"],
                  "scale": {"type": "point", "domain": ["Na","Al","K","Ca","Ti","Cr","Mn","Fe","Co","Rb","Sr","Zr","Cs","La","Ce","Nd","Sm","Eu","Tb","Yb","Lu","Hf","Ta","Th","U"], "padding": 0.9},
                  "axis": {"orient": "top", "labels": false, "title": null, "tickSize": -6}},
            "y": {"field": "v", "type": "quantitative", "scale": {"type": "log", "domain": [0.03, 30], "nice": false},
                  "axis": {"orient": "right", "labels": false, "title": null,
                           "values": [0.03,0.04,0.05,0.06,0.07,0.08,0.09,0.1,0.2,0.3,0.4,0.5,0.6,0.7,0.8,0.9,1,2,3,4,5,6,7,8,9,10,20,30],
                           "tickSize": {"condition": {"test": "datum.value==10||datum.value==1||datum.value==0.1", "value": -10}, "value": -6}}},
            "detail": {"field": "s"},
            "stroke": {"condition": {"test": "datum.g=='L80H'", "value": "#111"}, "value": "#5a5a5a"},
            "strokeWidth": {"condition": {"test": "datum.g=='L80H'", "value": 1.6}, "value": 0.9}
          }
        },
        {
          "mark": {"type": "point", "size": 105, "opacity": 1},
          "encoding": {
            "x": {"field": "e", "type": "ordinal", "sort": ["Na","Al","K","Ca","Ti","Cr","Mn","Fe","Co","Rb","Sr","Zr","Cs","La","Ce","Nd","Sm","Eu","Tb","Yb","Lu","Hf","Ta","Th","U"],
                  "axis": {"orient": "bottom", "title": null, "labelAngle": 0, "labelFontSize": 15, "tickSize": -6,
                           "labelPadding": {"condition": {"test": "indexof(['Al','Ca','Cr','Fe','Rb','Zr','La','Nd','Eu','Yb','Hf','Th'], datum.value) >= 0", "value": -21}, "value": 17}}},
            "y": {"field": "v", "type": "quantitative",
                  "axis": {"orient": "left", "title": "Sample/NASC", "titleFontSize": 18, "titlePadding": 6,
                           "values": [0.03,0.04,0.05,0.06,0.07,0.08,0.09,0.1,0.2,0.3,0.4,0.5,0.6,0.7,0.8,0.9,1,2,3,4,5,6,7,8,9,10,20,30],
                           "labelExpr": "(datum.value==30||datum.value==10||datum.value==1||datum.value==0.1||datum.value==0.03)?format(datum.value,'~g'):''",
                           "labelFontSize": 18,
                           "tickSize": {"condition": {"test": "datum.value==10||datum.value==1||datum.value==0.1", "value": -10}, "value": -6},
                           "labelPadding": {"condition": {"test": "datum.value==10||datum.value==1||datum.value==0.1", "value": 14}, "value": 10}}},
            "shape": {"field": "g", "type": "nominal",
                      "scale": {"domain": ["Y","M","L80H"], "range": ["square","circle","diamond"]},
                      "legend": {"orient": "none", "legendX": 213, "legendY": 28, "title": null, "labelFontSize": 14, "symbolSize": 100, "rowPadding": -1, "labelOffset": 8, "labelLimit": 400,
                                 "labelExpr": "datum.label=='Y'?'yellowish metasandstones':datum.label=='M'?'metapsammopelites':datum.label"}},
            "fill": {"field": "g", "type": "nominal", "scale": {"domain": ["Y","M","L80H"], "range": ["transparent","transparent","white"]}},
            "stroke": {"field": "g", "type": "nominal", "scale": {"domain": ["Y","M","L80H"], "range": ["#555","#555","#111"]}},
            "strokeWidth": {"condition": {"test": "datum.g=='L80H'", "value": 2}, "value": 1}
          }
        },
        {
          "mark": {"type": "point", "shape": "square", "size": 340, "filled": true, "fill": "white", "stroke": "#222", "strokeWidth": 1.2, "opacity": 1, "xOffset": -5},
          "encoding": {
            "x": {"datum": "U", "type": "ordinal", "axis": null},
            "y": {"datum": 15.8, "type": "quantitative", "axis": null}
          }
        },
        {
          "mark": {"type": "text", "text": "B", "fontSize": 19, "font": "Liberation Sans", "fill": "#222", "dx": -5, "align": "center", "baseline": "middle"},
          "encoding": {
            "x": {"datum": "U", "type": "ordinal", "axis": null},
            "y": {"datum": 15.8, "type": "quantitative", "axis": null}
          }
        }
      ]
    }
  ]
}
